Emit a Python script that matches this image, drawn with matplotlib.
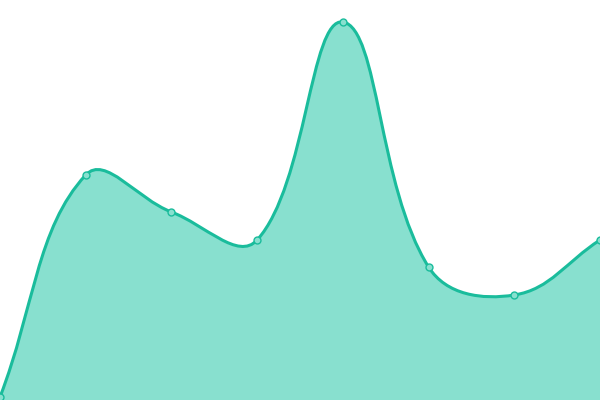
import numpy as np
import matplotlib
matplotlib.use("Agg")
import matplotlib.pyplot as plt
from matplotlib.path import Path
from matplotlib.patches import PathPatch

W, H = 600, 400
LINE = "#1abc9c"
FILL = "#88e0cf"

labels = ["A", "B", "C", "D", "E", "F", "G", "H"]
values = [3, 225, 188, 160, 378, 133, 105, 160]
Y_MAX = 400
TENSION = 0.4


def to_px(i, v):
    return np.array([i * W / (len(values) - 1), v * H / Y_MAX])


def spline_path(pts, t):
    # chart.js style bezier control points (computed in pixel space)
    n = len(pts)
    ctrl = []
    for i in range(n):
        prev = pts[max(i - 1, 0)]
        cur = pts[i]
        nxt = pts[min(i + 1, n - 1)]
        d01 = np.hypot(*(cur - prev))
        d12 = np.hypot(*(nxt - cur))
        tot = d01 + d12
        s01 = d01 / tot if tot else 0
        s12 = d12 / tot if tot else 0
        cp_prev = cur - t * s01 * (nxt - prev)
        cp_next = cur + t * s12 * (nxt - prev)
        cp_prev[1] = np.clip(cp_prev[1], 0, H)
        cp_next[1] = np.clip(cp_next[1], 0, H)
        ctrl.append((cp_prev, cp_next))
    verts = [pts[0]]
    codes = [Path.MOVETO]
    for i in range(1, n):
        verts += [ctrl[i - 1][1], ctrl[i][0], pts[i]]
        codes += [Path.CURVE4] * 3
    return verts, codes


pts = [to_px(i, v) for i, v in enumerate(values)]
verts, codes = spline_path(pts, TENSION)

fig = plt.figure(figsize=(6, 4), dpi=100)
ax = fig.add_axes([0, 0, 1, 1])
ax.set_xlim(0, W)
ax.set_ylim(0, H)
ax.axis("off")

fill_verts = verts + [np.array([W, 0]), np.array([0, 0]), verts[0]]
fill_codes = codes + [Path.LINETO, Path.LINETO, Path.CLOSEPOLY]
ax.add_patch(PathPatch(Path(fill_verts, fill_codes), facecolor=FILL, edgecolor="none"))
ax.add_patch(PathPatch(Path(verts, codes), facecolor="none", edgecolor=LINE, lw=2.2))

xs = [p[0] for p in pts]
ys = [p[1] for p in pts]
ax.plot(xs, ys, "o", ms=5, mfc=FILL, mec=LINE, mew=1, clip_on=False)

fig.savefig("out.png", dpi=100)
